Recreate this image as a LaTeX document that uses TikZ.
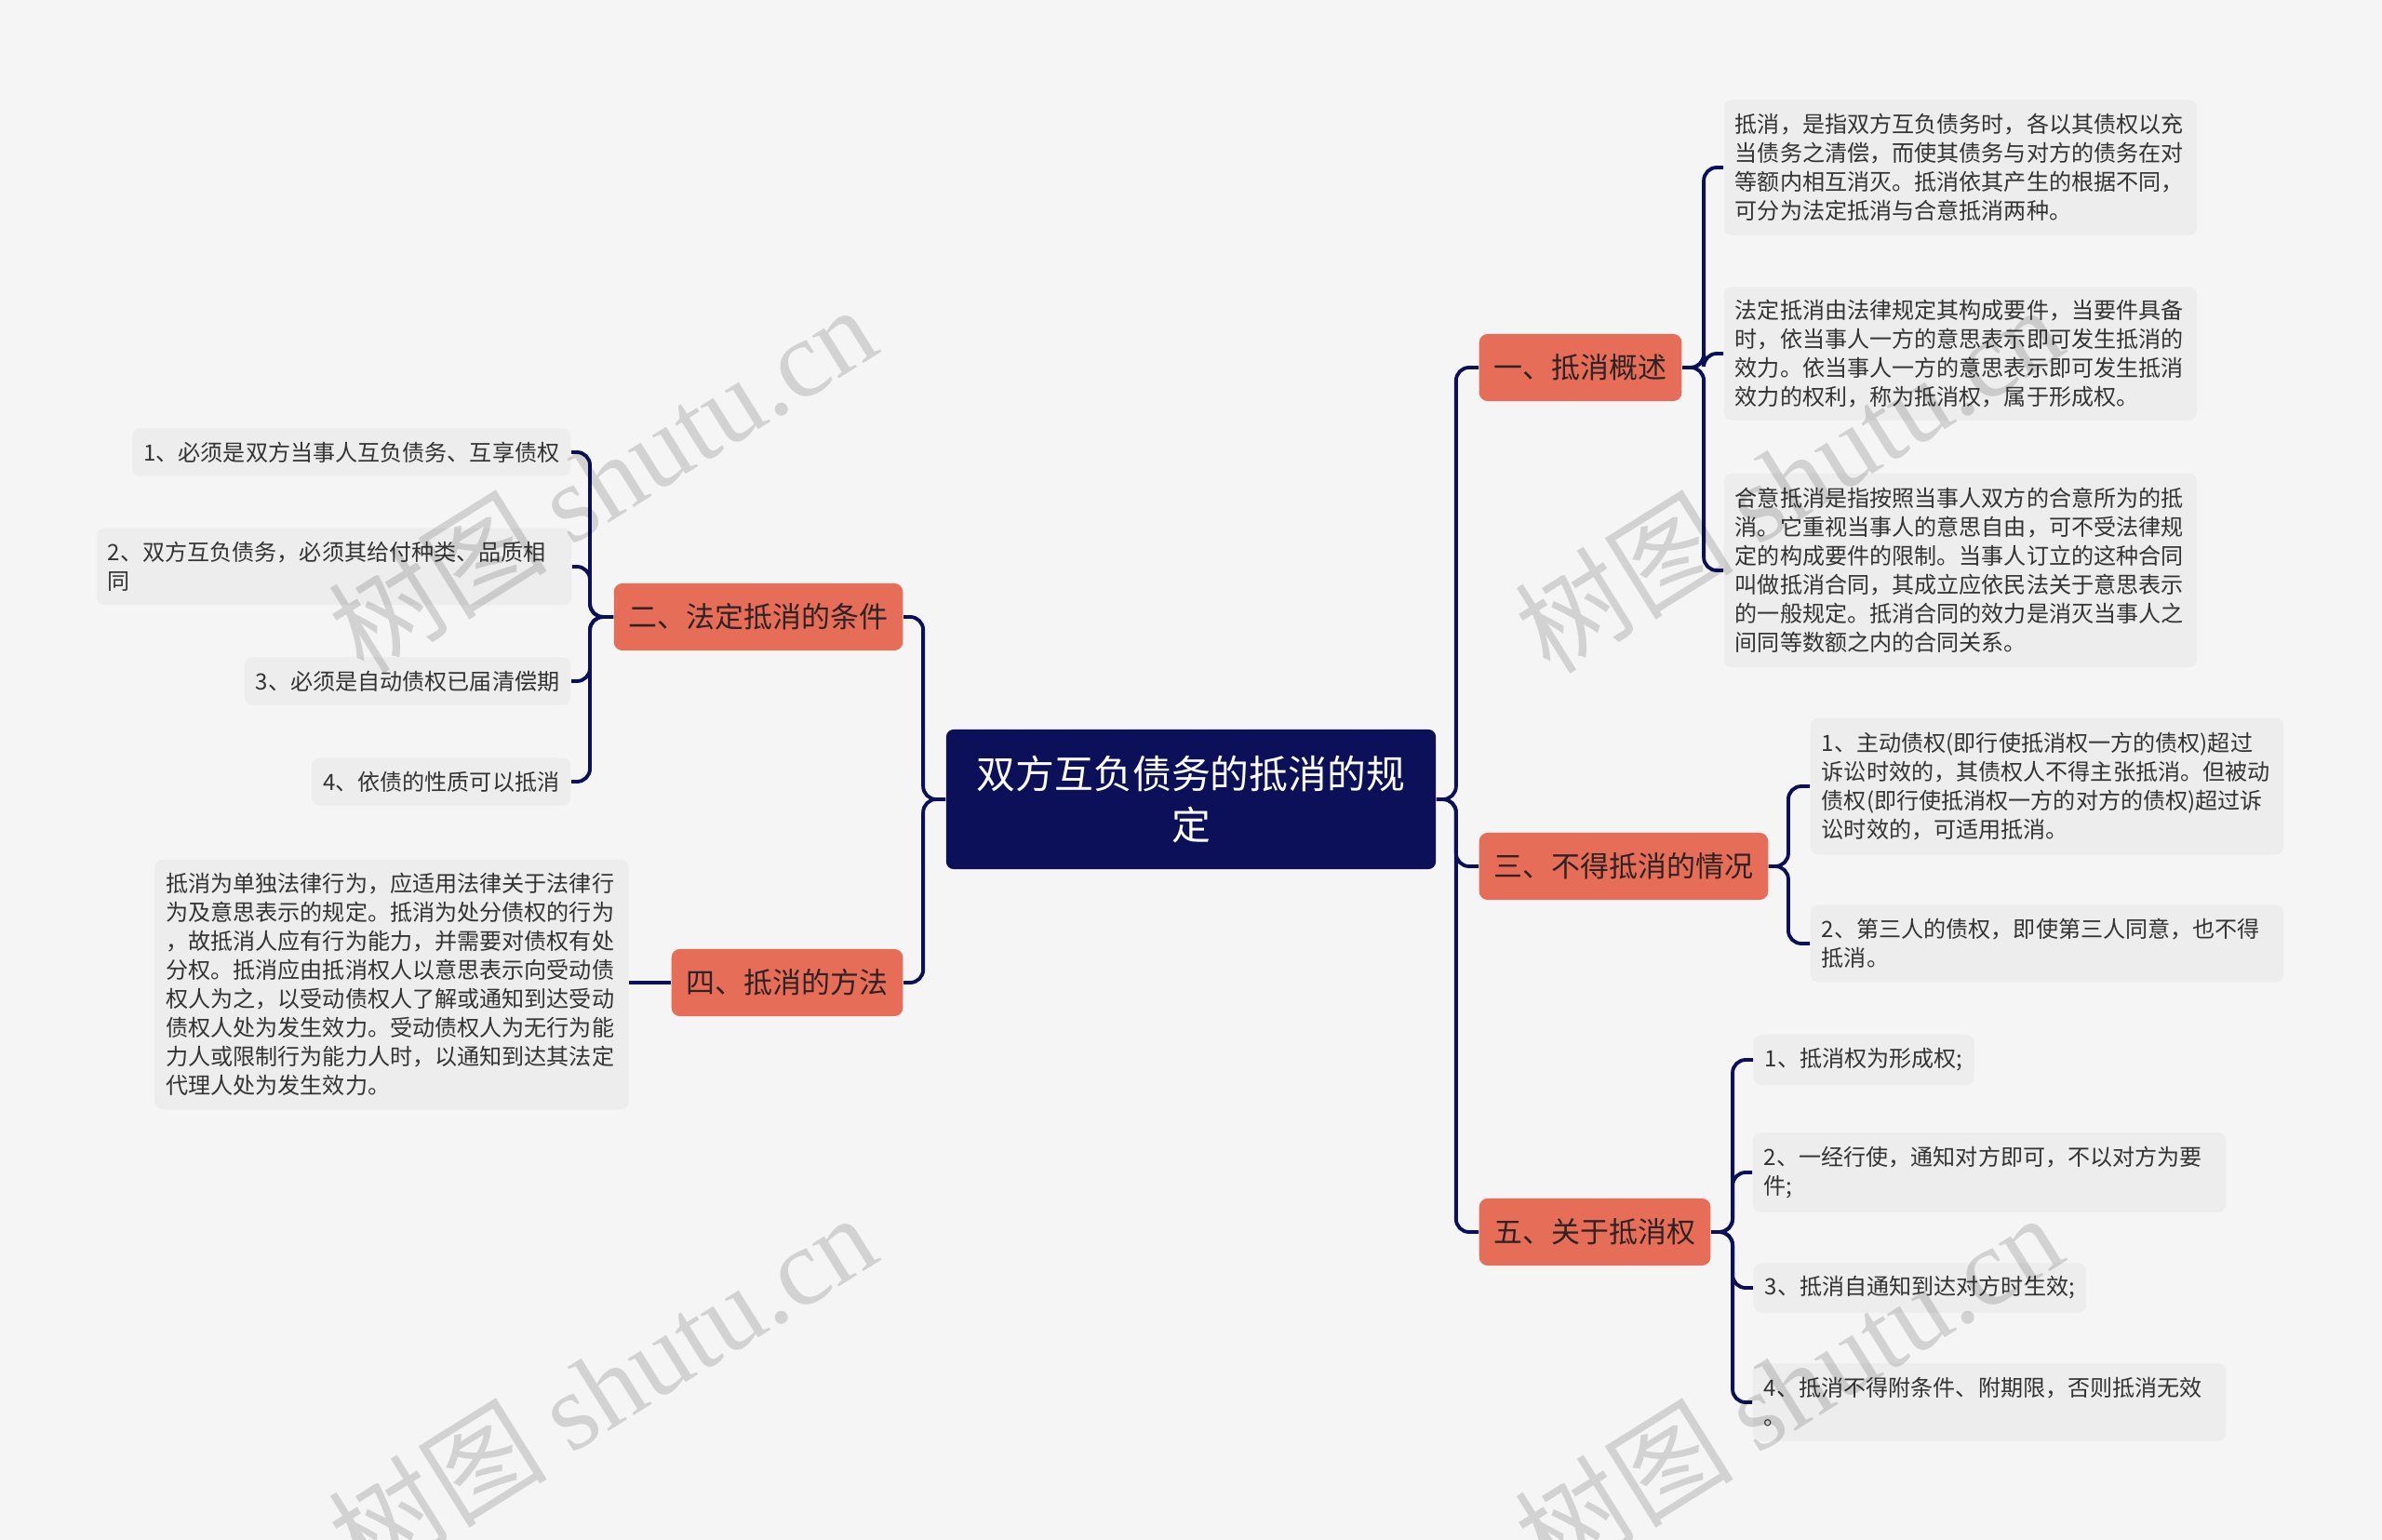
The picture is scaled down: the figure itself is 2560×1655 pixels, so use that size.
\documentclass[tikz,border=0pt]{standalone}
\usepackage{fontspec}
\setmainfont{Noto Sans CJK SC}
\newfontfamily\wmserif{Liberation Serif}
\definecolor{bg}{HTML}{F5F5F5}
\definecolor{navy}{HTML}{0B1058}
\definecolor{salmon}{HTML}{E66E58}
\definecolor{leaffill}{HTML}{EDEDED}
\definecolor{leaftext}{HTML}{333333}
\definecolor{lvltext}{HTML}{2E2222}
\begin{document}
\begin{tikzpicture}[x=0.01cm,y=-0.01cm,
 root/.style={fill=navy, text=white, rounded corners=0.08cm, inner sep=0pt, align=center,
   font=\fontsize{11.9}{15.4}\selectfont},
 lvl/.style={fill=salmon, text=lvltext, rounded corners=0.09cm, minimum height=0.72cm,
   inner xsep=0.16cm, inner ysep=0pt, font=\fontsize{8.8}{10}\selectfont},
 leaf/.style={fill=leaffill, text=leaftext, rounded corners=0.08cm, inner xsep=0.12cm,
   inner ysep=0.08cm, font=\fontsize{6.85}{8.8}\selectfont, align=left},
 conn/.style={draw=navy, line width=1.1pt, rounded corners=0.14cm},
 wmark/.style={text=black, opacity=0.14, rotate=32, font=\fontsize{33.5}{38}\selectfont}
]
\fill[bg] (0,0) rectangle (2560,1655);
\useasboundingbox (0,0) rectangle (2560,1655);

% root
\node[root, text width=4.7cm, minimum width=5.26cm, minimum height=1.5cm] (C) at (1280,859) {双方互负债务的抵消的规\\定};

% level 1
\node[lvl, anchor=west] (n1) at (1589,395) {一、抵消概述};
\node[lvl, anchor=west] (n3) at (1589,931) {三、不得抵消的情况};
\node[lvl, anchor=west] (n5) at (1589,1324) {五、关于抵消权};
\node[lvl, anchor=east] (n2) at (971,663) {二、法定抵消的条件};
\node[lvl, anchor=east] (n4) at (971,1056) {四、抵消的方法};

% leaves of n1
\node[leaf, text width=4.84cm, minimum height=1.45cm] (a1) at (2107,180) {抵消，是指双方互负债务时，各以其债权以充\\当债务之清偿，而使其债务与对方的债务在对\\等额内相互消灭。抵消依其产生的根据不同，\\可分为法定抵消与合意抵消两种。};
\node[leaf, text width=4.84cm, minimum height=1.43cm] (a2) at (2107,380) {法定抵消由法律规定其构成要件，当要件具备\\时，依当事人一方的意思表示即可发生抵消的\\效力。依当事人一方的意思表示即可发生抵消\\效力的权利，称为抵消权，属于形成权。};
\node[leaf, text width=4.84cm, minimum height=2.08cm] (a3) at (2107,613) {合意抵消是指按照当事人双方的合意所为的抵\\消。它重视当事人的意思自由，可不受法律规\\定的构成要件的限制。当事人订立的这种合同\\叫做抵消合同，其成立应依民法关于意思表示\\的一般规定。抵消合同的效力是消灭当事人之\\间同等数额之内的合同关系。};

% leaves of n3
\node[leaf, text width=4.84cm, minimum height=1.47cm] (b1) at (2200,845) {1、主动债权(即行使抵消权一方的债权)超过\\诉讼时效的，其债权人不得主张抵消。但被动\\债权(即行使抵消权一方的对方的债权)超过诉\\讼时效的，可适用抵消。};
\node[leaf, text width=4.84cm, minimum height=0.83cm] (b2) at (2200,1014) {2、第三人的债权，即使第三人同意，也不得\\抵消。};

% leaves of n5
\node[leaf, anchor=west, minimum height=0.54cm] (c1) at (1884,1139) {1、抵消权为形成权;};
\node[leaf, text width=4.84cm, minimum height=0.85cm] (c2) at (2138,1260) {2、一经行使，通知对方即可，不以对方为要\\件;};
\node[leaf, anchor=west, minimum height=0.53cm] (c3) at (1884,1384) {3、抵消自通知到达对方时生效;};
\node[leaf, text width=4.84cm, minimum height=0.83cm] (c4) at (2138,1507) {4、抵消不得附条件、附期限，否则抵消无效\\。};

% leaves of n2
\node[leaf, anchor=east, minimum height=0.51cm] (d1) at (614,486) {1、必须是双方当事人互负债务、互享债权};
\node[leaf, text width=4.86cm, minimum height=0.82cm] (d2) at (359,609) {2、双方互负债务，必须其给付种类、品质相\\同};
\node[leaf, anchor=east, minimum height=0.51cm] (d3) at (614,732) {3、必须是自动债权已届清偿期};
\node[leaf, anchor=east, minimum height=0.51cm] (d4) at (614,840) {4、依债的性质可以抵消};

% leaf of n4
\node[leaf, text width=4.85cm, minimum height=2.68cm] (e1) at (421,1058) {抵消为单独法律行为，应适用法律关于法律行\\为及意思表示的规定。抵消为处分债权的行为\\，故抵消人应有行为能力，并需要对债权有处\\分权。抵消应由抵消权人以意思表示向受动债\\权人为之，以受动债权人了解或通知到达受动\\债权人处为发生效力。受动债权人为无行为能\\力人或限制行为能力人时，以通知到达其法定\\代理人处为发生效力。};

% connectors
\draw[conn] (C.east) -- ++(21,0) |- (n1.west);
\draw[conn] (C.east) -- ++(21,0) |- (n3.west);
\draw[conn] (C.east) -- ++(21,0) |- (n5.west);
\draw[conn] (C.west) -- ++(-24,0) |- (n2.east);
\draw[conn] (C.west) -- ++(-24,0) |- (n4.east);

\draw[conn] (n1.east) -- ++(23,0) |- (a1.west);
\draw[conn] (n1.east) -- ++(23,0) |- (a2.west);
\draw[conn] (n1.east) -- ++(23,0) |- (a3.west);

\draw[conn] (n3.east) -- ++(21,0) |- (b1.west);
\draw[conn] (n3.east) -- ++(21,0) |- (b2.west);

\draw[conn] (n5.east) -- ++(23,0) |- (c1.west);
\draw[conn] (n5.east) -- ++(23,0) |- (c2.west);
\draw[conn] (n5.east) -- ++(23,0) |- (c3.west);
\draw[conn] (n5.east) -- ++(23,0) |- (c4.west);

\draw[conn] (n2.west) -- ++(-25,0) |- (d1.east);
\draw[conn] (n2.west) -- ++(-25,0) |- (d2.east);
\draw[conn] (n2.west) -- ++(-25,0) |- (d3.east);
\draw[conn] (n2.west) -- ++(-25,0) |- (d4.east);

\draw[conn] (n4.west) -- (e1.east |- n4.west);

% watermarks
\node[wmark] (wm1) at (647,514) {树图 {\wmserif shutu.cn}};
\node[wmark] (wm2) at (647,1490) {树图 {\wmserif shutu.cn}};
\node[wmark] (wm3) at (1922,514) {树图 {\wmserif shutu.cn}};
\node[wmark] (wm4) at (1922,1490) {树图 {\wmserif shutu.cn}};
\end{tikzpicture}
\end{document}
